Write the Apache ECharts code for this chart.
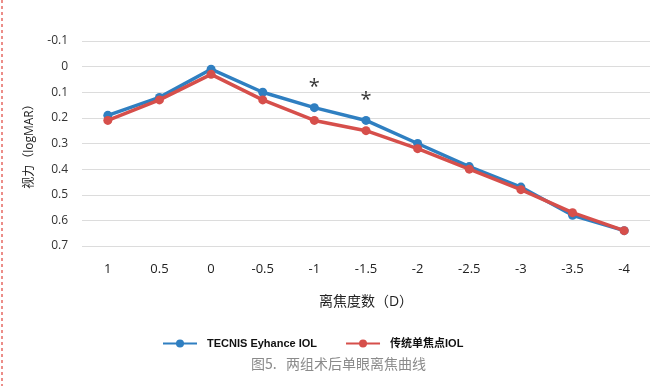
<!DOCTYPE html>
<html><head><meta charset="utf-8">
<script src="https://cdn.jsdelivr.net/npm/echarts@6/dist/echarts.min.js"></script>
<style>html,body{margin:0;padding:0;background:#fff}#c{width:671px;height:386px}</style>
</head><body><div id="c"></div>
<script>
const categories = ['1','0.5','0','-0.5','-1','-1.5','-2','-2.5','-3','-3.5','-4'];
const tecnis = [0.19,0.12,0.01,0.10,0.16,0.21,0.30,0.39,0.47,0.58,0.64];
const monofocal = [0.21,0.13,0.03,0.13,0.21,0.25,0.32,0.40,0.48,0.57,0.64];
const stars = [null,null,null,null,0.06,0.11,null,null,null,null,null];
const seriesNames = ['TECNIS Eyhance IOL','传统单焦点IOL'];
const yTicks = ['-0.1','0','0.1','0.2','0.3','0.4','0.5','0.6','0.7'];

const chart = echarts.init(document.getElementById('c'));
const font = '"Open Sans","Noto Sans CJK SC",sans-serif';
chart.setOption({
  animation:false,
  textStyle:{fontFamily:font},
  grid:{left:82,right:21,top:41,bottom:140},
  legend:{
    data:seriesNames, bottom:32, left:157, itemWidth:34, itemHeight:10, itemGap:28,
    textStyle:{fontWeight:'bold',fontSize:11,color:'#111',padding:[0,0,0,5],fontFamily:'Arial,"Noto Sans CJK SC",sans-serif'}
  },
  title:{text:'图5.   两组术后单眼离焦曲线', left:246, bottom:10,
    textStyle:{fontSize:14,fontWeight:'normal',color:'#8a8a8a',fontFamily:'"Noto Sans CJK SC",sans-serif'}},
  graphic:[{type:'line',shape:{x1:2,y1:0,x2:2,y2:386},style:{stroke:'#e0443c',lineWidth:1.2,lineDash:[3,3]}}],
  xAxis:{type:'category',data:categories,boundaryGap:true,
    axisLine:{show:false},axisTick:{show:false},
    axisLabel:{fontSize:13,color:'#222',margin:17},
    name:'离焦度数（D）',nameLocation:'middle',nameGap:49,
    nameTextStyle:{fontSize:14,color:'#222'}},
  yAxis:{type:'value',inverse:true,min:-0.1,max:0.7,interval:0.1,
    axisLine:{show:false},axisTick:{show:false},
    splitLine:{lineStyle:{color:'#dcdcdc',width:1}},
    axisLabel:{fontSize:12,color:'#333',margin:14,
      formatter:(v)=>{const i=Math.round((v+0.1)*10);return yTicks[i]!==undefined?yTicks[i]:'';}},
    name:'视力（logMAR）',nameLocation:'middle',nameGap:46,nameRotate:90,
    nameTextStyle:{fontSize:12,color:'#222'}},
  series:[
    {name:seriesNames[0],type:'line',data:tecnis,color:'#2f7fc1',symbol:'circle',symbolSize:9,
      lineStyle:{width:3.5},z:3},
    {name:seriesNames[1],type:'line',data:monofocal,color:'#d64f4b',symbol:'circle',symbolSize:9,
      lineStyle:{width:3.5},z:4},
    {name:'sig',type:'scatter',data:stars,symbolSize:0,silent:true,
      label:{show:true,formatter:'*',position:'inside',fontSize:20,color:'#000',offset:[0,5]}}
  ]
});
</script></body></html>
